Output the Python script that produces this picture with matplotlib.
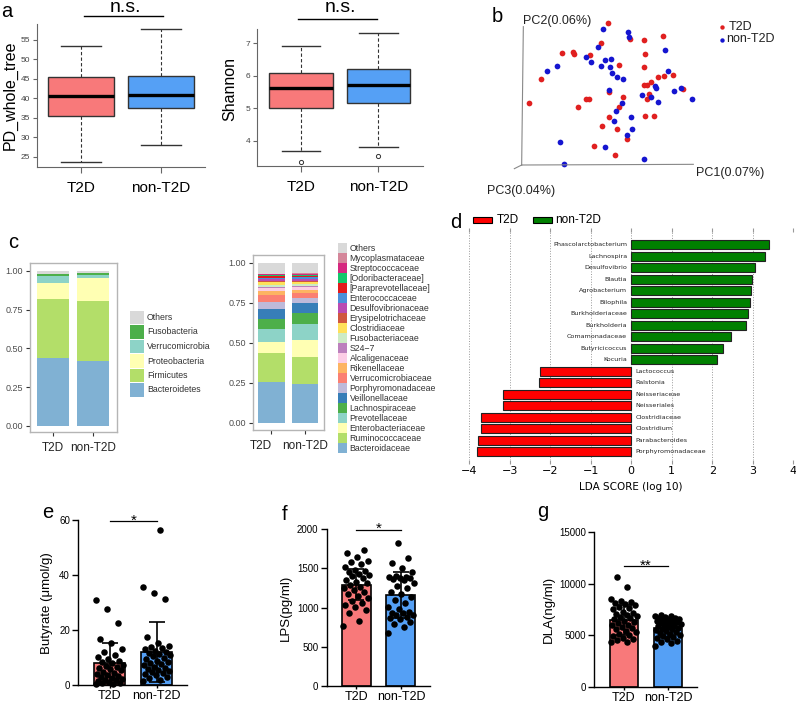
import matplotlib.pyplot as plt
import numpy as np
from matplotlib.patches import Rectangle

plt.rcParams['font.family'] = ['Liberation Sans', 'DejaVu Sans']

W, H = 796, 704
groups = ['T2D', 'non-T2D']
c_t2d = '#F8797A'
c_non = '#55A0F5'

# a: alpha diversity (box stats)
pd_q1 = [35.4, 37.5]
pd_med = [40.5, 40.9]
pd_q3 = [45.4, 45.8]
pd_lo = [23.8, 28.0]
pd_hi = [53.5, 57.7]
pd_out = [[], []]

sh_q1 = [5.00, 5.16]
sh_med = [5.63, 5.73]
sh_q3 = [6.08, 6.22]
sh_lo = [3.69, 3.80]
sh_hi = [6.93, 7.31]
sh_out = [[3.35], [3.54]]

# b: PCoA points, projected plot coordinates
pc_red_x = [624, 790, 690, 733, 602, 487, 519, 523, 570, 736, 656, 731, 423, 774, 792, 818, 752, 731, 741,
            626, 746, 848, 742, 670, 557, 566, 387, 533, 658, 626, 736, 761, 607, 650, 682, 582, 646]
pc_red_y = [70, 108, 118, 120, 128, 158, 156, 163, 166, 161, 195, 201, 236, 230, 228, 225, 247, 256, 254,
            277, 282, 268, 296, 292, 297, 297, 310, 320, 320, 352, 347, 347, 377, 386, 417, 437, 465]
pc_blue_x = [610, 684, 687, 594, 796, 557, 572, 615, 633, 602, 630, 470, 440, 635, 652, 670, 804, 766,
             767, 626, 842, 823, 875, 727, 752, 773, 666, 647, 692, 643, 695, 680, 480, 614, 733, 493]
pc_blue_y = [88, 95, 112, 140, 149, 170, 187, 180, 178, 197, 202, 197, 212, 219, 232, 236, 212, 258,
             263, 270, 263, 272, 296, 286, 290, 305, 308, 332, 352, 363, 386, 405, 427, 440, 478, 493]

# c: relative abundance, bottom to top
phyla = ['Bacteroidetes', 'Firmicutes', 'Proteobacteria', 'Verrucomicrobia', 'Fusobacteria', 'Others']
phy_t2d = [0.440, 0.376, 0.103, 0.047, 0.010, 0.024]
phy_non = [0.420, 0.385, 0.150, 0.015, 0.013, 0.017]
phy_colors = ['#80B1D3', '#B3DE69', '#FFFFB3', '#8DD3C7', '#4DAF4A', '#D9D9D9']

families = ['Bacteroidaceae', 'Ruminococcaceae', 'Enterobacteriaceae', 'Prevotellaceae', 'Lachnospiraceae',
            'Veillonellaceae', 'Porphyromonadaceae', 'Verrucomicrobiaceae', 'Rikenellaceae', 'Alcaligenaceae',
            'S24\u22127', 'Fusobacteriaceae', 'Clostridiaceae', 'Erysipelotrichaceae', 'Desulfovibrionaceae',
            'Enterococcaceae', '[Paraprevotellaceae]', '[Odoribacteraceae]', 'Streptococcaceae',
            'Mycoplasmataceae', 'Others']
fam_t2d = [0.256, 0.177, 0.071, 0.081, 0.061, 0.064, 0.042, 0.046, 0.027, 0.015, 0.010, 0.010, 0.017,
           0.010, 0.011, 0.008, 0.009, 0.005, 0.007, 0.004, 0.069]
fam_non = [0.240, 0.173, 0.104, 0.098, 0.068, 0.063, 0.031, 0.031, 0.021, 0.017, 0.010, 0.009, 0.012,
           0.011, 0.010, 0.010, 0.009, 0.006, 0.004, 0.006, 0.067]
fam_colors = ['#80B1D3', '#B3DE69', '#FFFFB3', '#8DD3C7', '#4DAF4A', '#377EB8', '#BEBADA', '#FB8072',
              '#FDB462', '#FCCDE5', '#BC80BD', '#CCEBC5', '#FFE05A', '#D0573F', '#B94BB2', '#4A90D9',
              '#E41A1C', '#13C76B', '#D6287F', '#D4869A', '#D9D9D9']

# d: LEfSe
lda_names = ['Phascolarctobacterium', 'Lachnospira', 'Desulfovibrio', 'Blautia', 'Agrobacterium', 'Bilophila',
             'Burkholderiaceae', 'Burkholderia', 'Comamonadaceae', 'Butyricicoccus', 'Kocuria', 'Lactococcus',
             'Ralstonia', 'Neisseriaceae', 'Neisseriales', 'Clostridiaceae', 'Clostridium', 'Parabacteroides',
             'Porphyromonadaceae']
lda_scores = [3.40, 3.31, 3.05, 2.99, 2.95, 2.94, 2.89, 2.84, 2.46, 2.27, 2.12, -2.25, -2.28, -3.17, -3.17,
              -3.71, -3.71, -3.79, -3.81]

# e, f, g: mean, sd and individual values
but_mean = [8.0, 12.2]
but_sd = [7.2, 10.9]
but_t2d = [31.0, 27.7, 22.5, 16.7, 15.5, 13.0, 12.2, 11.0, 10.2, 9.6, 9.0, 8.5, 8.0, 7.5, 7.0, 6.6, 6.2,
           5.8, 5.4, 5.0, 4.6, 4.2, 3.8, 3.4, 3.0, 2.7, 2.4, 2.1, 1.8, 1.5, 1.2, 1.0, 0.8, 0.6, 0.5]
but_non = [56.4, 35.6, 33.6, 31.5, 17.7, 15.2, 14.2, 13.8, 13.4, 13.0, 12.6, 12.2, 11.8, 11.4, 11.0, 10.5,
           10.0, 9.5, 9.0, 8.5, 8.0, 7.6, 7.2, 6.8, 6.4, 6.0, 5.6, 5.2, 4.8, 4.4, 4.0, 3.6, 3.0, 2.5, 2.0, 1.6]

lps_mean = [1290, 1160]
lps_sd = [200, 290]
lps_t2d = [1736, 1702, 1642, 1600, 1586, 1552, 1522, 1480, 1471, 1458, 1429, 1416, 1403, 1373, 1352, 1330,
           1309, 1288, 1266, 1245, 1224, 1203, 1173, 1147, 1117, 1087, 1062, 1032, 1002, 968, 934, 832, 763]
lps_non = [1821, 1629, 1565, 1501, 1458, 1403, 1390, 1386, 1380, 1373, 1360, 1352, 1309, 1275, 1245, 1203,
           1173, 1139, 1096, 1053, 1002, 977, 947, 930, 925, 910, 904, 883, 860, 849, 819, 789, 746, 670]

dla_mean = [6480, 5670]
dla_sd = [1460, 800]
dla_t2d = [10690, 9650, 8490, 8360, 8200, 8160, 8030, 7900, 7780, 7600, 7520, 7290, 7130, 7100, 6970, 6900,
           6800, 6640, 6600, 6410, 6300, 6220, 6000, 5990, 5830, 5700, 5570, 5400, 5350, 5120, 5000, 4920,
           4700, 4600, 4540, 4370, 4350]
dla_non = [6950, 6900, 6850, 6800, 6700, 6650, 6600, 6550, 6480, 6400, 6350, 6300, 6250, 6200, 6100, 6050,
           6000, 5950, 5900, 5800, 5700, 5650, 5600, 5500, 5400, 5300, 5200, 5100, 5000, 4900, 4800, 4700,
           4600, 4450, 4300, 4200, 3950]

fig = plt.figure(figsize=(W / 100, H / 100), dpi=100)


def add_px(x0, y0, x1, y1):
    return fig.add_axes([x0 / W, 1 - y1 / H, (x1 - x0) / W, (y1 - y0) / H])


# ---- a: boxplots
def boxpanel(rect, xl, q1, med, q3, lo, hi, out, ylim, yticks, ylabel, lab_xy, ns_y, ns_x):
    ax = add_px(*rect)
    stats = [dict(q1=q1[i], med=med[i], q3=q3[i], whislo=lo[i], whishi=hi[i], fliers=out[i]) for i in range(2)]
    bp = ax.bxp(stats, positions=[1, 2], widths=0.82, patch_artist=True, capwidths=[0.5, 0.5],
                boxprops=dict(edgecolor='#333333', lw=1.0),
                medianprops=dict(color='black', lw=2.4),
                whiskerprops=dict(ls=(0, (3, 2)), color='#333333', lw=0.8),
                capprops=dict(color='#333333', lw=1.0),
                flierprops=dict(marker='o', mfc='none', mec='#333333', ms=3, mew=0.7))
    for b, c in zip(bp['boxes'], [c_t2d, c_non]):
        b.set_facecolor(c)
    ax.set_xlim(*xl)
    ax.set_ylim(*ylim)
    ax.set_yticks(yticks)
    ax.set_xticks([1, 2], groups)
    for s in ['top', 'right']:
        ax.spines[s].set_visible(False)
    for s in ['left', 'bottom']:
        ax.spines[s].set_color('#666666')
        ax.spines[s].set_linewidth(0.8)
    ax.tick_params(axis='y', labelsize=6, labelcolor='#444444', color='#666666', length=3, pad=2)
    ax.tick_params(axis='x', labelsize=11, color='#666666', length=4, pad=6)
    ax.set_ylabel(ylabel, fontsize=11.5)
    ax.yaxis.set_label_coords(*lab_xy)
    ax.plot(ns_x, [ns_y[0], ns_y[0]], color='black', lw=1.0, clip_on=False)
    ax.text(np.mean(ns_x) + 0.03, ns_y[1], 'n.s.', fontsize=14, ha='center', va='baseline', clip_on=False)
    return ax


boxpanel((37, 24, 205, 167), (0.45, 2.55), pd_q1, pd_med, pd_q3, pd_lo, pd_hi, pd_out, (22.4, 59.1),
         [25, 30, 35, 40, 45, 50, 55], 'PD_whole_tree', (-0.112, 0.5), (61.2, 62.3), [1.04, 2.02])
boxpanel((257, 29, 423, 166), (0.43, 2.58), sh_q1, sh_med, sh_q3, sh_lo, sh_hi, sh_out, (3.23, 7.44),
         [4, 5, 6, 7], 'Shannon', (-0.118, 0.56), (7.74, 7.97), [0.96, 1.99])

# ---- b: PCoA 3D projection
ax_b = add_px(400, 0, 796, 230)
ax_b.set_facecolor('none')
ax_b.set_xlim(0, 1188)
ax_b.set_ylim(690, 0)
ax_b.axis('off')
ax_b.plot([370, 365], [80, 495], color='#888888', lw=0.8)
ax_b.plot([365, 880], [495, 493], color='#888888', lw=0.8)
ax_b.plot([365, 343], [495, 506], color='#888888', lw=0.8)
ax_b.scatter(pc_red_x, pc_red_y, s=17, color='#E02020', lw=0)
ax_b.scatter(pc_blue_x, pc_blue_y, s=17, color='#1515D0', lw=0)
ax_b.text(370, 62, 'PC2(0.06%)', fontsize=9, va='center', color='#222222')
ax_b.text(888, 518, 'PC1(0.07%)', fontsize=9, va='center', color='#222222')
ax_b.text(262, 572, 'PC3(0.04%)', fontsize=9, va='center', color='#222222')
ax_b.scatter([965], [82], s=10, color='#E02020', lw=0)
ax_b.scatter([965], [120], s=10, color='#1515D0', lw=0)
ax_b.text(985, 80, 'T2D', fontsize=9, va='center', color='#222222')
ax_b.text(978, 118, 'non-T2D', fontsize=9, va='center', color='#222222')


# ---- c: stacked bars
def stacked(rect, xl, yl, names, v1, v2, colors):
    ax = add_px(*rect)
    bottoms = np.zeros(2)
    for name, a, b, c in zip(names, v1, v2, colors):
        ax.bar([1, 2], [a, b], bottom=bottoms, width=0.8, color=c, lw=0)
        bottoms += [a, b]
    ax.set_xlim(*xl)
    ax.set_ylim(*yl)
    ax.set_yticks([0, 0.25, 0.5, 0.75, 1.0], ['0.00', '0.25', '0.50', '0.75', '1.00'])
    ax.set_xticks([1, 2], groups)
    for s in ax.spines.values():
        s.set_color('#B5B5B5')
        s.set_linewidth(1.0)
    ax.tick_params(axis='y', labelsize=6.5, labelcolor='#4D4D4D', color='#333333', length=3, pad=2)
    ax.tick_params(axis='x', labelsize=8.5, labelcolor='#222222', color='#333333', length=3, pad=4)
    return ax


stacked((30, 263, 117, 432), (0.425, 2.6), (-0.039, 1.05), phyla, phy_t2d, phy_non, phy_colors)
ax_c2 = stacked((253, 255, 324, 430), (0.447, 2.57), (-0.046, 1.048), families, fam_t2d, fam_non, fam_colors)
ax_c2.get_xticklabels()[0].set_ha('right')

# ---- d: LDA
ax_d = add_px(469, 232, 793.3, 460)
ax_d.set_facecolor('none')
ypos = np.arange(len(lda_names))
ax_d.barh(ypos, lda_scores, height=0.78,
          color=['#008000' if v > 0 else '#FF0000' for v in lda_scores], edgecolor='#222222', lw=0.8, zorder=3)
for y, name, v in zip(ypos, lda_names, lda_scores):
    if v > 0:
        ax_d.text(-0.1, y, name, ha='right', va='center', fontsize=4.6, family='DejaVu Sans', color='#222222')
    else:
        ax_d.text(0.1, y, name, ha='left', va='center', fontsize=4.6, family='DejaVu Sans', color='#222222')
ax_d.set_xlim(-4, 4)
ax_d.set_ylim(18.7, -1.1)
ax_d.set_xticks(range(-4, 5))
ax_d.set_yticks([])
for s in ax_d.spines.values():
    s.set_visible(False)
ax_d.grid(axis='x', ls=':', color='#999999', lw=0.7, zorder=0)
ax_d.tick_params(axis='x', top=True, bottom=True, length=3, color='#999999', labelsize=8, pad=1)
for t in ax_d.get_xticklabels():
    t.set_family('DejaVu Sans')
ax_d.set_xlabel('LDA SCORE (log 10)', fontsize=7.5, family='DejaVu Sans', labelpad=5)


# ---- e, f, g: bar + dot plots
def spread(vals, half):
    order = np.argsort(vals)
    offs = np.zeros(len(vals))
    for rank, idx in enumerate(order):
        offs[idx] = ((rank * 0.618034) % 1.0 - 0.5) * 2 * half
    return offs


def dotbar(rect, xl, means, sds, pts, ylim, yticks, ylabel, lab_x, sig, sig_y, sig_txt):
    ax = add_px(*rect)
    ax.bar([1, 2], means, width=0.65, color=[c_t2d, c_non], edgecolor='black', lw=1.2, zorder=2)
    for i, p in enumerate(pts):
        ax.scatter(i + 1 + spread(p, 0.3), p, s=22, color='black', lw=0, zorder=3, clip_on=False)
    ax.errorbar([1, 2], means, yerr=sds, fmt='none', ecolor='black', elinewidth=1.2, capsize=6,
                capthick=1.2, zorder=4)
    ax.set_xlim(*xl)
    ax.set_ylim(*ylim)
    ax.set_yticks(yticks)
    ax.set_xticks([1, 2], groups)
    for s in ['top', 'right']:
        ax.spines[s].set_visible(False)
    for s in ['left', 'bottom']:
        ax.spines[s].set_linewidth(1.0)
    ax.tick_params(axis='y', labelsize=7, length=4, width=1, pad=2)
    ax.tick_params(axis='x', labelsize=9, length=2.5, width=1, pad=1)
    ax.set_ylabel(ylabel, fontsize=9.5)
    ax.yaxis.set_label_coords(lab_x, 0.5)
    ax.plot([1, 2], [sig, sig], color='black', lw=0.9, clip_on=False)
    ax.text(1.5, sig_y, sig_txt, fontsize=11, ha='center', va='baseline', clip_on=False)
    return ax


dotbar((78.3, 520, 187, 685.3), (0.33, 2.645), but_mean, but_sd, [but_t2d, but_non], (0, 60),
       [0, 20, 40, 60], 'Butyrate (\u03bcmol/g)', -0.23, 59.6, 58.3, '*')
dotbar((326.7, 529.3, 430, 685.7), (0.34, 2.65), lps_mean, lps_sd, [lps_t2d, lps_non], (0, 2000),
       [0, 500, 1000, 1500, 2000], 'LPS(pg/ml)', -0.339, 1991, 1960, '*')
dotbar((594.3, 532.3, 696.6, 686.7), (0.325, 2.65), dla_mean, dla_sd, [dla_t2d, dla_non], (0, 15000),
       [0, 5000, 10000, 15000], 'DLA(ng/ml)', -0.384, 11726, 11400, '**')

# ---- overlay: panel letters and legends
ax_o = fig.add_axes([0, 0, 1, 1])
ax_o.set_xlim(0, W)
ax_o.set_ylim(H, 0)
ax_o.axis('off')

for x, y, s in [(1, 17, 'a'), (491.7, 21.7, 'b'), (8, 248.3, 'c'), (450, 228, 'd'),
                (41.7, 518.3, 'e'), (281.7, 520, 'f'), (536.7, 516.7, 'g')]:
    ax_o.text(x, y, s, fontsize=14.5, ha='left', va='baseline')

for i, (name, c) in enumerate(zip(phyla[::-1], phy_colors[::-1])):
    y = 310 + i * 14.5
    ax_o.add_patch(Rectangle((130, y + 0.5), 14, 13.5, color=c, lw=0))
    ax_o.text(147, y + 7.5, name, fontsize=6.3, va='center', color='#333333')

for i, (name, c) in enumerate(zip(families[::-1], fam_colors[::-1])):
    y = 243 + i * 10.0
    ax_o.add_patch(Rectangle((337.7, y + 0.3), 9, 9.4, color=c, lw=0))
    ax_o.text(349.5, y + 5.2, name, fontsize=6.3, va='center', color='#333333')

ax_o.add_patch(Rectangle((472.7, 216.7), 19, 6, facecolor='#FF0000', edgecolor='black', lw=0.8))
ax_o.text(496.7, 219.7, 'T2D', fontsize=8.5, va='center')
ax_o.add_patch(Rectangle((532.7, 216.7), 19, 6, facecolor='#008000', edgecolor='black', lw=0.8))
ax_o.text(555, 219.7, 'non-T2D', fontsize=8.5, va='center')

fig.savefig('out.png', dpi=100)
